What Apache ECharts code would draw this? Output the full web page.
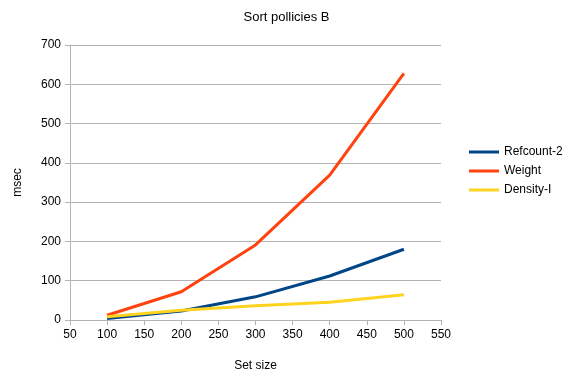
<!DOCTYPE html>
<html>
<head>
<meta charset="utf-8">
<script src="https://cdn.jsdelivr.net/npm/echarts@6/dist/echarts.min.js"></script>
<style>
  html, body { margin: 0; padding: 0; background: #fff; }
  #chart { width: 573px; height: 377px; }
</style>
</head>
<body>
<div id="chart"></div>
<script>
// set sizes and timings
var setSizes = [100, 200, 300, 400, 500];
var refcount2 = [4, 23, 59, 112, 180];
var weight = [12, 72, 191, 369, 628];
var densityI = [8, 25, 36, 45, 64];

function pairs(vals) {
	return setSizes.map(function (x, i) { return [x, vals[i]]; });
}

var myChart = echarts.init(document.getElementById('chart'));
var axisGray = '#b3b3b3';
var txt = { color: '#000', fontFamily: 'Liberation Sans', fontSize: 12 };

option = {
	animation: false,
	title: {
		text: 'Sort pollicies B',
		left: 'center',
		top: 6,
		textStyle: { color: '#000', fontFamily: 'Liberation Sans', fontSize: 13, fontWeight: 'normal' }
	},
	grid: { left: 70, right: 132, top: 45, bottom: 57 },
	legend: {
		orient: 'vertical',
		left: 469,
		top: 146,
		padding: 0,
		icon: 'rect',
		itemWidth: 30,
		itemHeight: 3,
		itemGap: 7,
		textStyle: txt,
		data: ['Refcount-2', 'Weight', 'Density-I']
	},
	xAxis: {
		type: 'value',
		min: 50, max: 550, interval: 50,
		name: 'Set size',
		nameLocation: 'middle',
		nameGap: 40,
		nameTextStyle: txt,
		axisLine: { show: true, lineStyle: { color: axisGray } },
		axisTick: { show: true, length: 5, lineStyle: { color: axisGray } },
		axisLabel: Object.assign({ margin: 9 }, txt),
		splitLine: { show: false }
	},
	yAxis: {
		type: 'value',
		min: 0, max: 700, interval: 100,
		name: 'msec',
		nameLocation: 'middle',
		nameGap: 46,
		nameTextStyle: txt,
		axisLine: { show: true, lineStyle: { color: axisGray } },
		axisTick: { show: true, length: 5, lineStyle: { color: axisGray } },
		axisLabel: Object.assign({ margin: 9 }, txt),
		splitLine: { show: true, lineStyle: { color: axisGray } }
	},
	series: [
		{ name: 'Refcount-2', type: 'line', data: pairs(refcount2), showSymbol: false, color: '#004586', lineStyle: { width: 3 } },
		{ name: 'Weight', type: 'line', data: pairs(weight), showSymbol: false, color: '#ff420e', lineStyle: { width: 3 } },
		{ name: 'Density-I', type: 'line', data: pairs(densityI), showSymbol: false, color: '#ffd320', lineStyle: { width: 3 } }
	]
};
myChart.setOption(option);
</script>
</body>
</html>
